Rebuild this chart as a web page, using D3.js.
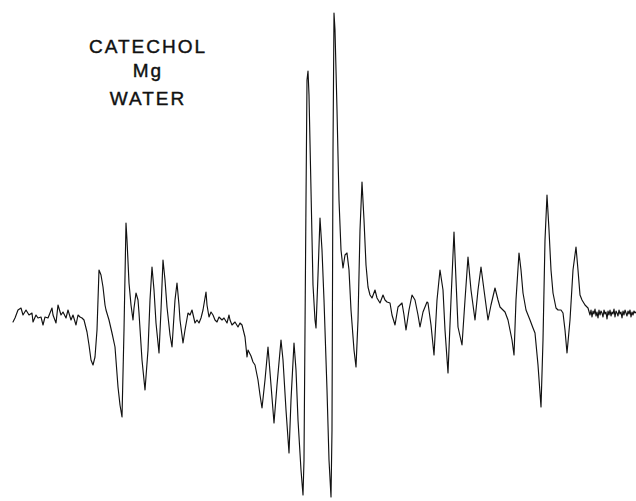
<html>
<script src="https://d3js.org/d3.v7.min.js"></script>
<style>
body { margin: 0; background: #fff; }
</style>
<body>
<div id="spectrum"></div>
<script>

//sample labels written on the chart
var labelLines = ["CATECHOL", "Mg", "WATER"];

//field sweep position (arbitrary units, left to right)
var field = [
  1, 3, 6, 9, 11, 14, 17, 20, 21, 24, 26, 29, 31, 33, 36, 40, 41, 44, 46, 49,
  51, 54, 56, 59, 61, 64, 66, 68, 70, 72, 75, 77, 79, 81, 83, 85, 87, 89, 91, 93,
  94, 97, 100, 103, 106, 108, 110, 112, 114, 115, 117, 119, 121, 122, 124, 126, 127, 130, 133, 136,
  138, 140, 142, 144, 147, 149, 151, 153, 155, 158, 160, 163, 165, 167, 168, 171, 173, 176, 178, 180,
  183, 185, 187, 189, 191, 194, 195, 197, 199, 201, 203, 205, 207, 210, 212, 215, 217, 218, 220, 223,
  226, 228, 230, 233, 235, 236, 239, 241, 243, 246, 248, 250, 253, 256, 259, 262, 265, 269, 271, 274,
  277, 279, 282, 284, 286, 289, 291, 292, 294, 295, 296, 297, 299, 301, 303, 304, 306, 308, 310, 312,
  315, 317, 319, 320, 321, 322, 323, 325, 327, 329, 331, 333, 335, 337, 339, 342, 344, 346, 348, 350,
  352, 354, 356, 358, 360, 363, 365, 368, 371, 373, 375, 378, 380, 383, 386, 390, 392, 394, 397, 400,
  403, 406, 408, 411, 415, 416, 419, 422, 425, 428, 431, 433, 436, 439, 442, 444, 446, 450, 453, 456,
  459, 463, 466, 469, 472, 476, 479, 483, 486, 488, 491, 493, 496, 498, 500, 502, 504, 507, 509, 511,
  514, 518, 521, 523, 526, 529, 531, 533, 535, 537, 539, 541, 544, 546, 549, 551, 553, 555, 558, 561,
  564, 566, 568, 570, 573, 576,
  578, 579, 580, 581, 582, 583, 584, 585, 586, 587, 588, 589, 590, 591, 592, 593, 594, 595, 596, 597,
  598, 599, 600, 601, 602, 603, 604, 605, 606, 607, 608, 609, 610, 611, 612, 613, 614, 615, 616, 617,
  618, 619, 620, 621, 622, 623, 624
];

//derivative signal (arbitrary units, 0 = baseline)
var signal = [
  -6, -2, 6, 8, 1, 6, 1, 3, -6, 1, -2, -1, -9, -1, -2, 8, 1, -7, 11, 1,
  4, -2, 6, -4, 1, -9, 1, -1, -2, -4, -16, -29, -44, -49, -41, -14, 46, 41, 29, 11,
  6, -4, -17, -31, -71, -89, -101, -14, 93, 76, 33, 11, -4, 8, 23, 16, 3, -44, -74, -34,
  16, 49, 26, -7, -37, 6, 56, 36, 9, -19, -31, 16, 33, 11, -4, -27, -14, 3, 1, 6,
  -7, -4, -7, -2, 6, 24, 11, -1, 4, 1, -4, -6, -1, -4, -2, -7, 1, -4, -9, -6,
  -11, -7, -9, -21, -41, -34, -40, -46, -49, -64, -79, -92, -64, -31, -69, -107, -69, -24, -44, -94,
  -137, -84, -27, -54, -104, -154, -179, -144, 116, 236, 245, 221, 126, 31, -4, -12, 41, 98, 66, 16,
  -74, -144, -181, -114, 166, 303, 286, 206, 116, 66, 48, 61, 63, 46, 6, -34, -51, -4, 86, 134,
  96, 51, 29, 21, 18, 26, 18, 13, 21, 16, 14, 13, 1, -9, 9, 13, 1, -14, 6, 21,
  16, 1, -11, 4, 14, 13, -9, -39, 16, 46, 26, -14, -57, 16, 84, 36, -11, -29, 16, 59,
  26, -4, 26, 49, 26, -4, 11, 28, 16, 9, 6, 4, -4, -14, -24, -39, 16, 63, 46, 23,
  6, -4, -12, -17, -49, -91, -24, 76, 121, 86, 46, 23, 8, 6, 6, 3, -14, -37, -4, 46,
  69, 46, 21, 16, 11, 8,
  1, 6, -1, 5, 2, 7, 0, 4, -2, 6, 1, 5, 3, -1, 6, 2, 4, -3, 5, 1,
  6, 0, 4, 2, 7, -1, 5, 3, 0, 6, 2, 4, -2, 5, 1, 6, 3, 0, 5, 2,
  6, -1, 4, 1, 5, 3, 4
];

var width = 636,
    height = 501;

var points = field.map(function(f, i) { return {field: f, signal: signal[i]}; });

//scales in chart units
var x = d3.scaleLinear()
    .domain([0, 624])
    .range([12, 636]);
var y = d3.scaleLinear()
    .domain([-185, 316])
    .range([height, 0]);

var svg = d3.select("#spectrum")
    .append("svg")
    .attr("width", width)
    .attr("height", height);

//spectrum trace
var line = d3.line()
    .x(function(d) { return x(d.field); })
    .y(function(d) { return y(d.signal); });

svg.append("path")
    .datum(points)
    .attr("d", line)
    .attr("fill", "none")
    .attr("stroke", "#111")
    .attr("stroke-width", 1.15)
    .attr("stroke-linejoin", "round")
    .attr("stroke-linecap", "round");

//sample description in the top left corner
svg.selectAll(".label")
    .data(labelLines)
    .enter()
    .append("text")
    .attr("class", "label")
    .attr("x", 148)
    .attr("y", function(d, i) { return [53, 77, 105][i]; })
    .attr("text-anchor", "middle")
    .style("font-family", "'Liberation Sans', Arial, sans-serif")
    .style("font-size", "19px")
    .style("letter-spacing", "2px")
    .style("fill", "#111")
    .style("stroke", "#111")
    .style("stroke-width", 0.4)
    .text(function(d) { return d; });

</script>
</body>
</html>
